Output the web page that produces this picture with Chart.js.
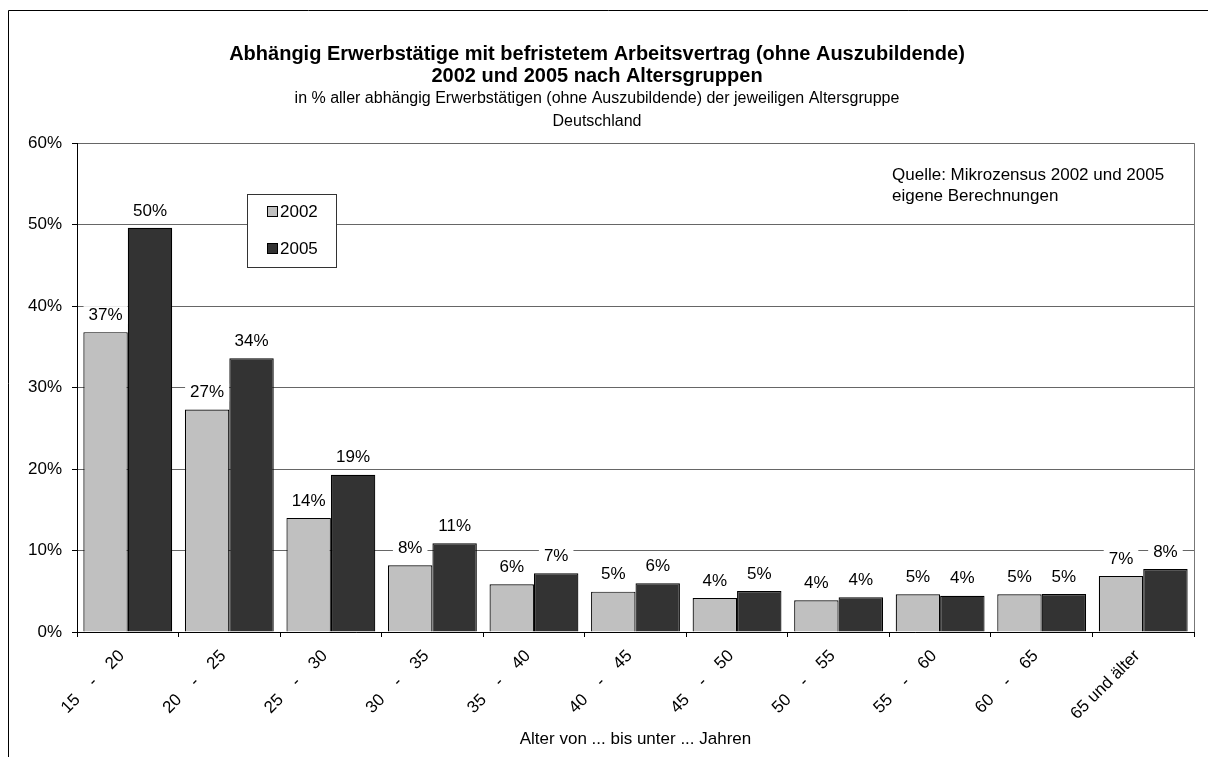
<!DOCTYPE html>
<html>
<head>
<meta charset="utf-8">
<script src="https://cdn.jsdelivr.net/npm/chart.js@4.4.1/dist/chart.umd.min.js"></script>
<style>
html, body { margin: 0; padding: 0; background: #fff; }
</style>
</head>
<body>
<canvas id="chart" width="1208" height="757"></canvas>
<script>
// data (percent)
var AgeGroups = ['15    -    20', '20    -    25', '25    -    30', '30    -    35', '35    -    40',
                 '40    -    45', '45    -    50', '50    -    55', '55    -    60', '60    -    65', '65 und älter'];
var Values2002 = [36.8, 27.3, 14.0, 8.2, 5.85, 4.95, 4.17, 3.89, 4.62, 4.62, 6.87];
var Values2005 = [49.6, 33.6, 19.3, 10.9, 7.2, 5.97, 5.03, 4.25, 4.45, 4.66, 7.73];
var SeriesNames = ['2002', '2005'];
var TitleLines = ['Abhängig Erwerbstätige mit befristetem Arbeitsvertrag (ohne Auszubildende)', '2002 und 2005 nach Altersgruppen'];
var SubtitleLines = ['in % aller abhängig Erwerbstätigen (ohne Auszubildende) der jeweiligen Altersgruppe', 'Deutschland'];
var SourceLines = ['Quelle: Mikrozensus 2002 und 2005', 'eigene Berechnungen'];
var AxisTitleX = 'Alter von ... bis unter ... Jahren';

var _Font = '"Liberation Sans", Arial, sans-serif';
var _BackgroundColor = ['#c0c0c0', '#333333'];

Chart.defaults.font.family = _Font;
Chart.defaults.color = '#000';

var FramePlugin = {
    id: 'frame',
    beforeDraw: function (chart) {
        var ctx = chart.ctx;
        ctx.save();
        ctx.fillStyle = '#fff';
        ctx.fillRect(0, 0, chart.width, chart.height);
        ctx.strokeStyle = '#000';
        ctx.lineWidth = 1;
        ctx.beginPath();
        ctx.moveTo(8.5, chart.height);
        ctx.lineTo(8.5, 10.5);
        ctx.lineTo(chart.width, 10.5);
        ctx.stroke();
        ctx.restore();
    },
    afterDraw: function (chart) {
        var ctx = chart.ctx;
        var a = chart.chartArea;
        ctx.save();
        // right border of plot area
        ctx.strokeStyle = '#777';
        ctx.lineWidth = 1;
        ctx.beginPath();
        ctx.moveTo(Math.round(a.right) + 0.5, a.top);
        ctx.lineTo(Math.round(a.right) + 0.5, a.bottom);
        ctx.stroke();

        // legend box
        ctx.fillStyle = '#fff';
        ctx.fillRect(247, 194, 89, 73);
        ctx.strokeStyle = '#333';
        ctx.strokeRect(247.5, 194.5, 89, 73);
        ctx.font = '17px ' + _Font;
        ctx.textAlign = 'left';
        ctx.textBaseline = 'middle';
        chart.data.datasets.forEach(function (ds, i) {
            var y = 212 + i * 37;
            ctx.fillStyle = ds.backgroundColor;
            ctx.fillRect(267.5, y - 5.5, 10, 10);
            ctx.strokeStyle = '#000';
            ctx.strokeRect(267.5, y - 5.5, 10, 10);
            ctx.fillStyle = '#000';
            ctx.fillText(ds.label, 280, y);
        });

        // source note
        SourceLines.forEach(function (t, i) {
            ctx.fillText(t, 892, 175 + i * 21);
        });
        ctx.restore();
    }
};

var BarLabelPlugin = {
    id: 'barLabels',
    afterDatasetsDraw: function (chart) {
        var ctx = chart.ctx;
        ctx.save();
        ctx.font = '17px ' + _Font;
        ctx.textAlign = 'center';
        ctx.textBaseline = 'middle';
        chart.data.datasets.forEach(function (ds, di) {
            var meta = chart.getDatasetMeta(di);
            meta.data.forEach(function (bar, i) {
                var txt = Math.round(ds.data[i]) + '%';
                var w = ctx.measureText(txt).width + 10;
                var y = bar.y - 17;
                ctx.fillStyle = '#fff';
                ctx.fillRect(bar.x - w / 2, y - 9, w, 18);
                ctx.fillStyle = '#000';
                ctx.fillText(txt, bar.x, y);
            });
        });
        ctx.restore();
    }
};

function getBarDataset(_label, _colorstyle, _values) {
    return {
        label: _label,
        data: _values,
        backgroundColor: _BackgroundColor[_colorstyle],
        borderColor: '#000',
        borderWidth: 1.2,
        categoryPercentage: 0.875,
        barPercentage: 1.0
    };
}

var ctx = document.getElementById('chart');
var BarChart = new Chart(ctx, {
    type: 'bar',
    data: {
        labels: AgeGroups,
        datasets: [getBarDataset(SeriesNames[0], 0, Values2002), getBarDataset(SeriesNames[1], 1, Values2005)]
    },
    options: {
        responsive: false,
        animation: false,
        devicePixelRatio: 1,
        layout: { padding: { left: 0, right: 14, top: 0, bottom: 0 } },
        plugins: {
            legend: { display: false },
            tooltip: { enabled: false },
            title: {
                display: true,
                text: TitleLines,
                font: { size: 20, weight: 'bold', lineHeight: 1.1 },
                padding: { top: 43, bottom: 0 }
            },
            subtitle: {
                display: true,
                text: SubtitleLines,
                font: { size: 16, lineHeight: 1.44 },
                padding: { top: 0, bottom: 10 }
            }
        },
        scales: {
            x: {
                grid: { drawOnChartArea: false, drawTicks: true, tickLength: 5, tickColor: '#000' },
                border: { color: '#000', width: 1 },
                ticks: { autoSkip: false, minRotation: 45, maxRotation: 45, font: { size: 17 }, padding: 9, labelOffset: -6 },
                title: { display: true, text: AxisTitleX, font: { size: 17 }, padding: { top: 0, bottom: 7 } },
                afterFit: function (scale) { scale.height = 125; }
            },
            y: {
                min: 0,
                max: 60,
                grid: { color: '#666', tickColor: '#000', tickLength: 5 },
                border: { color: '#000', width: 1 },
                ticks: {
                    stepSize: 10,
                    padding: 10,
                    font: { size: 17 },
                    callback: function (v) { return v + '%'; }
                },
                afterFit: function (scale) { scale.width = 77; }
            }
        }
    },
    plugins: [FramePlugin, BarLabelPlugin]
});
</script>
</body>
</html>
